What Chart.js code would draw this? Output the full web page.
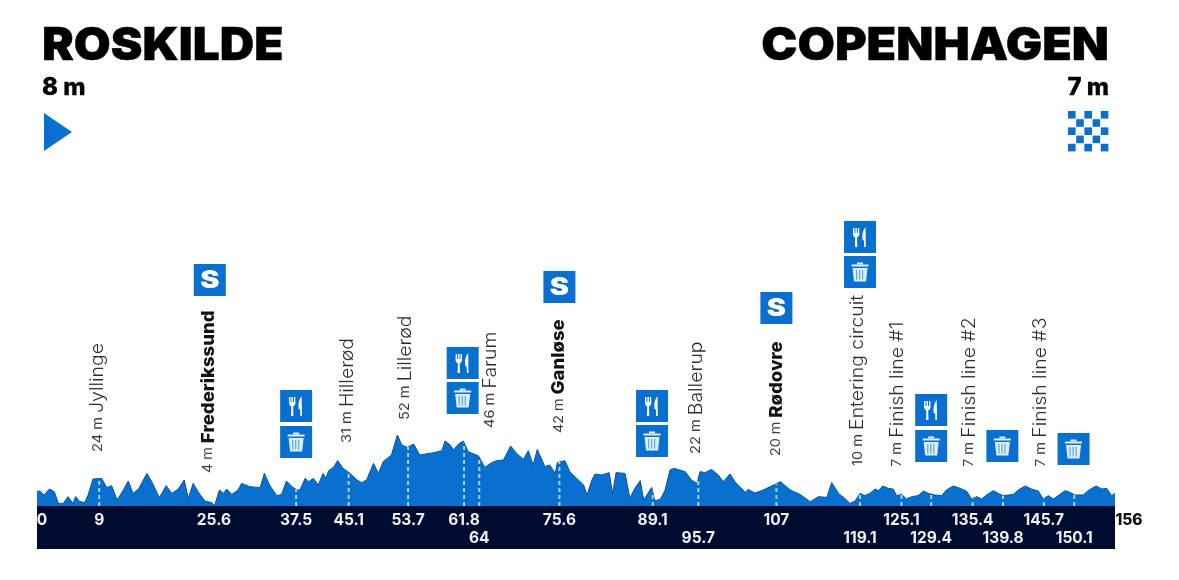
<!DOCTYPE html>
<html><head><meta charset="utf-8">
<style>html,body{margin:0;padding:0;background:#fff}canvas{display:block}</style>
<script src="https://cdn.jsdelivr.net/npm/chart.js@4"></script>
</head><body><canvas id="c" width="1179" height="580"></canvas>
<script>
const kmValues=[0,0.4,1,1.8,2.5,3.1,3.8,4.5,5.2,5.6,6.2,6.9,7.4,8.1,9.35,10.1,10.8,11.6,12.5,13.2,13.9,14.7,15.9,16.6,17.7,18.7,19.5,20.45,21.3,21.9,22.6,23.3,24.3,25.3,25.7,26.4,27,27.45,28.2,29.1,29.6,30.8,32.3,32.9,33.7,34.7,35.4,36.1,36.9,37.6,38.06,38.8,39.3,40,40.7,41.4,41.8,42.2,42.9,43.5,44.3,45.3,46.3,47,47.7,48.7,49.4,50.1,51.3,52.15,52.8,53.6,54.5,55.4,57.4,58.6,59.05,59.8,60.25,61,61.7,62.4,63.9,64.8,65.8,66.5,67.5,68.55,69.4,70.4,71.1,71.8,72.4,73.5,74.2,75,75.3,76.4,77.1,78.1,79.1,79.6,80.3,80.75,81.7,82.8,83.3,83.8,85.1,85.8,86.5,87.3,87.8,88.95,89.4,90.2,90.9,91.6,92.2,93,93.8,94.7,95.5,95.95,96.7,97.6,98.6,99.3,100.3,101,102.5,102.9,103.9,105.1,106.6,107.6,109,110.4,111.9,113.1,114.3,115,116,116.9,117.65,118.4,119.1,119.8,120.5,121.3,121.75,122.4,123.2,123.9,124.4,125.1,125.85,126.6,127.5,128.3,129,129.95,130.9,131.6,132.6,133.6,134.5,135.25,136,136.7,137.4,138.4,139.1,139.8,141.3,142,143,143.9,144.9,145.6,146.35,147.1,148,148.8,149.5,150.2,151.4,152.1,153.25,154.1,154.8,155.5,156];
const elevationValues=[11.5,12,8.8,13.6,11.5,2.1,2.1,7.5,2.1,7.5,3.5,2.9,8.8,21.6,22.1,14.7,16.3,4.8,12.8,20,10.1,13.6,26.1,19.5,6.7,16.3,10.1,13.6,20.8,6.1,18.1,11.5,4,2.7,0.3,12.8,10.1,13.6,9.3,12.8,18.1,15.5,14.7,26.1,16.3,8.3,9.3,20,15.5,12.8,12.8,22.1,19.5,22.1,16.8,26.1,22.1,28.3,30.9,36.3,30.1,26.1,20.8,18.7,20.8,34.1,26.1,35.5,40.8,56.8,48.8,46.9,49.6,40.8,42.7,44.3,52,48.8,44.8,49.6,52,43.5,40,30.9,34.7,36.3,36.8,48,42.1,37.3,44.3,32.8,45.3,31.5,32.8,26.1,34.7,36.3,27.5,22.1,16.8,8.8,20.8,25.6,24.8,26.7,10.1,26.7,26.1,6.1,14.1,20.3,4.8,14.9,4.3,5.3,12.8,28.8,30.1,28.8,27.5,20.8,18.1,27.5,26.7,29.3,24.8,19.5,25.6,19.5,10.9,13.3,10.4,12.8,16.8,19.5,12.8,9.3,3.5,7.5,6.9,18.7,10.1,6.1,2.1,4,10.1,8.3,10.1,13.6,12.3,16,14.1,13.6,8.3,9.3,5.6,7.5,8.3,12,10.1,8.8,8.3,12.8,16,14.1,12,5.6,7.5,5.6,8.8,12.3,10.1,8.3,9.3,12.8,16,13.6,12,5.6,8.3,5.6,9.3,12.3,10.9,8.8,8.8,12.3,16,13.6,14.1,8.3,10.1];

const tickUpper=[9,25.6,37.5,45.1,53.7,61.8,75.6,89.1,107,125.1,135.4,145.7];
const tickLower=[64,95.7,119.1,129.4,139.8,150.1];
const dashedMarks=[9,37.5,45.1,53.7,61.8,64,75.6,89.1,95.7,107,119.1,125.1,129.4,135.4,139.8,145.7,150.1];
const startKm=0, endKm=156;

const placeHeights=['24 m','4 m','31 m','52 m','46 m','42 m','22 m','20 m','10 m','7 m','7 m','7 m'];
const placeNames=['Jyllinge','Frederikssund','Hillerød','Lillerød','Farum','Ganløse','Ballerup','Rødovre','Entering circuit','Finish line #1','Finish line #2','Finish line #3'];
const placeBold=[false,true,false,false,false,true,false,true,false,false,false,false];
const placeKm=[8.8,24.8,44.9,53.3,65.6,75.5,95.4,107,118.8,124.5,134.9,145.3];
const placeBottom=[452,473,443,420,428,433,454,456,466,467,467,467];

const iconKinds=['S','F','T','F','T','S','F','T','S','F','T','F','T','T','T'];
const iconKm=[25,37.5,37.5,61.6,61.6,75.6,89,89,107,119.1,119.1,129.4,129.4,139.7,150];
const iconTop=[264,390,426,347,382,271,390,425,292,221,256,394,430,430,433];

const startName='ROSKILDE', endName='COPENHAGEN', startAlt='8 m', endAlt='7 m';

const BLUE='#0a70cf', NAVY='#000b30', INK='#3f3f3f';
const SANS='Inter, "Noto Sans", sans-serif';

function elevAt(k){
  for(let i=1;i<kmValues.length;i++){
    if(k<=kmValues[i]){
      const t=(k-kmValues[i-1])/(kmValues[i]-kmValues[i-1]);
      return elevationValues[i-1]+t*(elevationValues[i]-elevationValues[i-1]);
    }
  }
  return elevationValues[elevationValues.length-1];
}
function drawFork(c,x,y){
  c.fillStyle='#fff';
  c.fillRect(x-7,y-9,1.4,7);c.fillRect(x-4.6,y-9,1.4,7);c.fillRect(x-2.2,y-9,1.4,7);
  c.beginPath();c.moveTo(x-7,y-4);c.lineTo(x-0.8,y-4);c.quadraticCurveTo(x-1,y,x-3,y+0.5);
  c.lineTo(x-2.7,y+10);c.lineTo(x-5.1,y+10);c.lineTo(x-4.8,y+0.5);c.quadraticCurveTo(x-6.8,y,x-7,y-4);c.fill();
  c.beginPath();c.moveTo(x+5.5,y-10);c.quadraticCurveTo(x+1.5,y-5,x+2.5,y+3);c.lineTo(x+4,y+3.5);c.lineTo(x+4.2,y+10);c.lineTo(x+5.8,y+10);c.closePath();c.fill();
}
function drawTrash(c,x,y){
  c.fillStyle='#dff0fc';
  c.fillRect(x-8.5,y-7.5,17,2);
  c.fillRect(x-3,y-9.5,6,2);
  c.beginPath();c.moveTo(x-7.5,y-4);c.lineTo(x+7.5,y-4);c.lineTo(x+6,y+9.5);c.lineTo(x-6,y+9.5);c.closePath();c.fill();
  c.fillStyle='#5aa6e4';
  [-4,-1,2].forEach(d=>c.fillRect(x+d,y-2.2,1.2,9.8));
}
function stretched(c,txt,x,y,sx,stroke){
  c.save();c.translate(x,y);c.scale(sx,1);
  if(stroke){c.lineWidth=stroke;c.strokeStyle='#000';c.lineJoin='miter';c.strokeText(txt,0,0);}
  c.fillText(txt,0,0);c.restore();
}
const routeArt={
  id:'routeArt',
  beforeDatasetsDraw(ch){
    const c=ch.ctx,xs=ch.scales.x,ys=ch.scales.y,y0=ys.getPixelForValue(0),l=xs.getPixelForValue(startKm),r=xs.getPixelForValue(endKm);
    c.save();c.fillStyle=NAVY;c.fillRect(l,y0,r-l,ys.bottom-y0);c.restore();
  },
  afterDatasetsDraw(ch){
    const c=ch.ctx,xs=ch.scales.x,ys=ch.scales.y,y0=ys.getPixelForValue(0);
    c.save();
    c.strokeStyle='#a3d3f6';c.lineWidth=2;c.setLineDash([4,3]);
    dashedMarks.forEach(k=>{const x=xs.getPixelForValue(k);c.beginPath();c.moveTo(x,y0);c.lineTo(x,Math.min(y0-5,ys.getPixelForValue(elevAt(k))));c.stroke();});
    c.setLineDash([]);
    c.textAlign='center';c.textBaseline='middle';c.fillStyle='#f0f0f3';c.font='700 15.5px '+SANS;
    tickUpper.forEach(k=>c.fillText(String(k),xs.getPixelForValue(k),y0+14));
    tickLower.forEach(k=>c.fillText(String(k),xs.getPixelForValue(k),y0+32));
    c.fillText(String(startKm),xs.getPixelForValue(startKm)+5,y0+14);
    c.fillStyle='#111';c.font='800 15.5px '+SANS;c.fillText(String(endKm),xs.getPixelForValue(endKm)+14,y0+14);
    // place names
    placeNames.forEach((n,i)=>{
      c.save();
      c.translate(xs.getPixelForValue(placeKm[i]),placeBottom[i]);
      c.rotate(-Math.PI/2);
      c.scale(placeBold[i]?1.06:1.08,1);
      c.textAlign='left';c.textBaseline='middle';
      c.fillStyle=INK;c.font='400 13.5px '+SANS;
      const h=placeHeights[i]+' ';
      c.fillText(h,0,0);
      const w=c.measureText(h).width;
      if(placeBold[i]){c.font='800 17.5px '+SANS;c.fillStyle='#111';}else{c.font='300 18px '+SANS;c.fillStyle='#2e2e2e';}
      c.fillText(n,w,0);
      c.restore();
    });
    // icons
    iconKinds.forEach((k,i)=>{
      const cx=xs.getPixelForValue(iconKm[i]),t=iconTop[i];
      c.fillStyle=BLUE;c.fillRect(cx-16,t,32,32);
      if(k==='F')drawFork(c,cx,t+16);
      else if(k==='T')drawTrash(c,cx,t+16);
      else{c.save();c.fillStyle='#fff';c.font='900 24px '+SANS;c.textAlign='center';c.textBaseline='middle';c.translate(cx,t+17);c.scale(1.2,1);c.fillText('S',0,0);c.restore();}
    });
    // header
    c.fillStyle='#000';c.textBaseline='alphabetic';
    c.font='900 45px '+SANS;c.textAlign='left';stretched(c,startName,42,60,1.06,0.5);
    c.textAlign='right';stretched(c,endName,1109,60,1.074,0.5);
    c.font='800 24px '+SANS;c.textAlign='left';stretched(c,startAlt,42,95,1,0.3);
    c.textAlign='right';stretched(c,endAlt,1109,95,1,0.3);
    c.fillStyle=BLUE;
    c.beginPath();c.moveTo(44,113);c.lineTo(72,132);c.lineTo(44,151);c.closePath();c.fill();
    for(let a=0;a<5;a++)for(let b=0;b<5;b++)if((a+b)%2===0)c.fillRect(1068+a*8.2,111+b*8.2,7.6,7.6);
    c.restore();
  }
};
new Chart(document.getElementById('c'),{
  type:'line',
  data:{datasets:[{
    data:kmValues.map((k,i)=>({x:k,y:elevationValues[i]})),
    borderColor:'#0b4f9c',borderWidth:1,backgroundColor:BLUE,fill:'origin',pointRadius:0,tension:0
  }]},
  options:{
    responsive:false,animation:false,
    layout:{padding:{left:37,right:64,top:0,bottom:31}},
    plugins:{legend:{display:false},tooltip:{enabled:false}},
    scales:{
      x:{type:'linear',display:false,min:startKm,max:endKm},
      y:{type:'linear',display:false,min:-34.4,max:404.8}
    }
  },
  plugins:[routeArt]
});
</script></body></html>
